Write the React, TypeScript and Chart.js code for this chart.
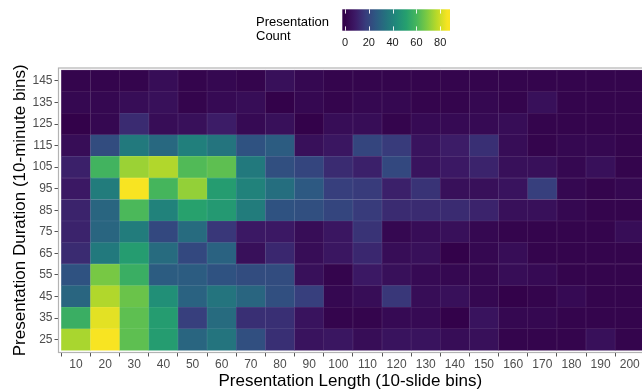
import { useEffect, useRef } from 'react';
import { Chart, registerables } from 'chart.js';

Chart.register(...registerables);

// ---------------- data ----------------
const lengthBins = ['10', '20', '30', '40', '50', '60', '70', '80', '90', '100', '110', '120', '130', '140', '150', '160', '170', '180', '190', '200'];
const durationBins = ['25', '35', '45', '55', '65', '75', '85', '95', '105', '115', '125', '135', '145'];

// counts per duration bin, one value per length bin (10 ... 200)
const dur25 = [75, 86, 64, 50, 30, 35, 23, 14, 6, 7, 4, 6, 6, 4, 5, 1, 1, 1, 5, 1];
const dur35 = [57, 83, 64, 50, 18, 32, 14, 14, 6, 1, 1, 3, 3, 0, 6, 2, 2, 1, 1, 1];
const dur45 = [30, 76, 66, 45, 29, 35, 30, 23, 18, 2, 4, 16, 4, 5, 2, 0, 1, 3, 1, 1];
const dur55 = [24, 68, 57, 27, 27, 24, 22, 22, 5, 1, 8, 5, 3, 2, 2, 4, 3, 1, 1, 1];
const dur65 = [13, 37, 50, 32, 21, 29, 5, 12, 4, 7, 12, 4, 5, 0, 2, 4, 1, 1, 1, 1];
const dur75 = [11, 30, 38, 21, 32, 16, 8, 8, 4, 7, 15, 2, 4, 5, 2, 1, 1, 1, 1, 4];
const dur85 = [11, 30, 61, 40, 52, 49, 38, 24, 23, 20, 17, 13, 13, 13, 11, 5, 5, 2, 1, 1];
const dur95 = [8, 38, 86, 60, 72, 50, 40, 33, 26, 18, 17, 10, 15, 5, 5, 6, 18, 2, 1, 2];
const dur105 = [10, 59, 73, 76, 62, 64, 37, 23, 20, 13, 10, 21, 6, 8, 11, 5, 5, 2, 5, 1];
const dur115 = [4, 22, 37, 31, 39, 35, 24, 27, 5, 7, 20, 17, 6, 9, 14, 4, 1, 2, 2, 1];
const dur125 = [0, 2, 13, 4, 5, 9, 3, 5, 0, 4, 4, 1, 3, 3, 3, 4, 1, 1, 1, 1];
const dur135 = [2, 2, 4, 5, 1, 3, 4, 0, 2, 1, 2, 2, 1, 1, 2, 1, 5, 1, 1, 1];
const dur145 = [1, 1, 1, 4, 1, 2, 1, 5, 2, 1, 1, 1, 1, 1, 1, 1, 1, 1, 1, 1];

const countsByDuration = [dur25, dur35, dur45, dur55, dur65, dur75, dur85, dur95, dur105, dur115, dur125, dur135, dur145];

const legendTicks = [0, 20, 40, 60, 80];
const colorMin = 0;
const colorMax = 86;

// ---------------- styling ----------------
const FONT = '"Liberation Sans", Arial, Helvetica, sans-serif';

const palette = [
  '#33024a', '#3c1a66', '#383c7c', '#2d5882', '#24727e',
  '#1f8a7a', '#26a06e', '#46b65c', '#7cca42', '#bbda28', '#f8e422',
];

function hexToRgb(h: string): number[] {
  const n = parseInt(h.slice(1), 16);
  return [(n >> 16) & 255, (n >> 8) & 255, n & 255];
}
const paletteRgb = palette.map(hexToRgb);

function colorFor(v: number, mixWhite = 0): string {
  let t = (v - colorMin) / (colorMax - colorMin);
  t = Math.max(0, Math.min(1, t));
  const pos = t * (paletteRgb.length - 1);
  const i = Math.min(paletteRgb.length - 2, Math.floor(pos));
  const f = pos - i;
  const a = paletteRgb[i];
  const b = paletteRgb[i + 1];
  const c = a.map((x, k) => x + (b[k] - x) * f).map((x) => x + (255 - x) * mixWhite);
  return `rgb(${Math.round(c[0])},${Math.round(c[1])},${Math.round(c[2])})`;
}

const legendPlugin = {
  id: 'colorLegend',
  afterDraw(chart: any) {
    const ctx = chart.ctx as CanvasRenderingContext2D;
    const area = chart.chartArea;
    ctx.save();
    // panel border (right edge falls outside the canvas, as in the reference)
    ctx.strokeStyle = '#b3b3b3';
    ctx.lineWidth = 1.2;
    ctx.strokeRect(area.left, area.top, area.right - area.left + 10, area.bottom - area.top);

    // colour bar
    const bx0 = 342.3;
    const bx1 = 450;
    const by0 = 9.3;
    const by1 = 30.7;
    const half = (bx1 - bx0) / 40;
    const vx = (v: number) => bx0 + half + ((v - colorMin) / (colorMax - colorMin)) * (bx1 - bx0 - 2 * half);
    const grad = ctx.createLinearGradient(vx(colorMin), 0, vx(colorMax), 0);
    for (let k = 0; k <= 20; k++) {
      const v = colorMin + (k / 20) * (colorMax - colorMin);
      grad.addColorStop(k / 20, colorFor(v));
    }
    ctx.fillStyle = grad;
    ctx.fillRect(bx0, by0, bx1 - bx0, by1 - by0);

    ctx.strokeStyle = 'rgba(255,255,255,0.9)';
    ctx.lineWidth = 1;
    legendTicks.forEach((t) => {
      const x = Math.round(vx(t)) + 0.5;
      ctx.beginPath();
      ctx.moveTo(x, by0);
      ctx.lineTo(x, by0 + 4.3);
      ctx.moveTo(x, by1 - 4.3);
      ctx.lineTo(x, by1);
      ctx.stroke();
    });

    ctx.fillStyle = '#1a1a1a';
    ctx.font = `11px ${FONT}`;
    ctx.textAlign = 'center';
    ctx.textBaseline = 'middle';
    legendTicks.forEach((t) => ctx.fillText(String(t), vx(t), 42.5));

    ctx.fillStyle = '#000';
    ctx.font = `13px ${FONT}`;
    ctx.textAlign = 'left';
    ctx.fillText('Presentation', 256, 22);
    ctx.fillText('Count', 256, 36.5);
    ctx.restore();
  },
};

export default function App() {
  const canvasRef = useRef<HTMLCanvasElement | null>(null);

  useEffect(() => {
    document.body.style.margin = '0';
    document.body.style.overflow = 'hidden';
    const canvas = canvasRef.current;
    if (!canvas) return;

    const datasets = durationBins.map((d, r) => ({
      label: d,
      data: countsByDuration[r].map((_, c) => ({ x: c, y: [r - 0.5, r + 0.5] })),
      backgroundColor: countsByDuration[r].map((v) => colorFor(v)),
      borderColor: countsByDuration[r].map((v) => colorFor(v, 0.14)),
      borderWidth: 0.6,
      borderSkipped: false,
      grouped: false,
      categoryPercentage: 1,
      barPercentage: 1,
    }));

    const chart = new Chart(canvas, {
      type: 'bar',
      data: { datasets: datasets as any },
      plugins: [legendPlugin],
      options: {
        responsive: false,
        animation: false,
        maintainAspectRatio: false,
        layout: { padding: { top: 68, right: 0, left: 0, bottom: 0 } },
        plugins: {
          legend: { display: false },
          tooltip: { enabled: false },
          title: { display: false },
        },
        scales: {
          x: {
            type: 'linear',
            min: -0.6,
            max: 19.42,
            offset: false,
            grid: { display: true, drawOnChartArea: false, drawTicks: true, tickLength: 4, color: '#555555' },
            border: { display: false },
            afterBuildTicks: (axis: any) => {
              axis.ticks = lengthBins.map((_, i) => ({ value: i }));
            },
            ticks: {
              color: '#4d4d4d',
              font: { family: FONT, size: 12 },
              padding: 1,
              maxRotation: 0,
              autoSkip: false,
              callback: (v: any) => lengthBins[Math.round(Number(v))] ?? '',
            },
            title: {
              display: true,
              text: 'Presentation Length (10-slide bins)',
              color: '#000',
              font: { family: FONT, size: 17, lineHeight: 1 },
              padding: { top: 0, bottom: 0 },
            },
            afterFit: (s: any) => {
              s.height = 37.5;
            },
          },
          y: {
            type: 'linear',
            min: -0.6,
            max: 12.6,
            grid: { display: true, drawOnChartArea: false, drawTicks: true, tickLength: 4, color: '#555555' },
            border: { display: false },
            afterBuildTicks: (axis: any) => {
              axis.ticks = durationBins.map((_, i) => ({ value: i }));
            },
            ticks: {
              color: '#4d4d4d',
              font: { family: FONT, size: 12 },
              padding: 2,
              autoSkip: false,
              callback: (v: any) => durationBins[Math.round(Number(v))] ?? '',
            },
            title: {
              display: true,
              text: 'Presentation Duration (10-minute bins)',
              color: '#000',
              font: { family: FONT, size: 17, lineHeight: 1 },
              padding: { top: 11.5, bottom: 0 },
            },
            afterFit: (s: any) => {
              s.width = 58.5;
            },
          },
        },
      },
    });

    return () => {
      chart.destroy();
    };
  }, []);

  return (
    <div style={{ width: 642, height: 390 }}>
      <canvas ref={canvasRef} width={642} height={390} style={{ display: 'block' }} />
    </div>
  );
}
